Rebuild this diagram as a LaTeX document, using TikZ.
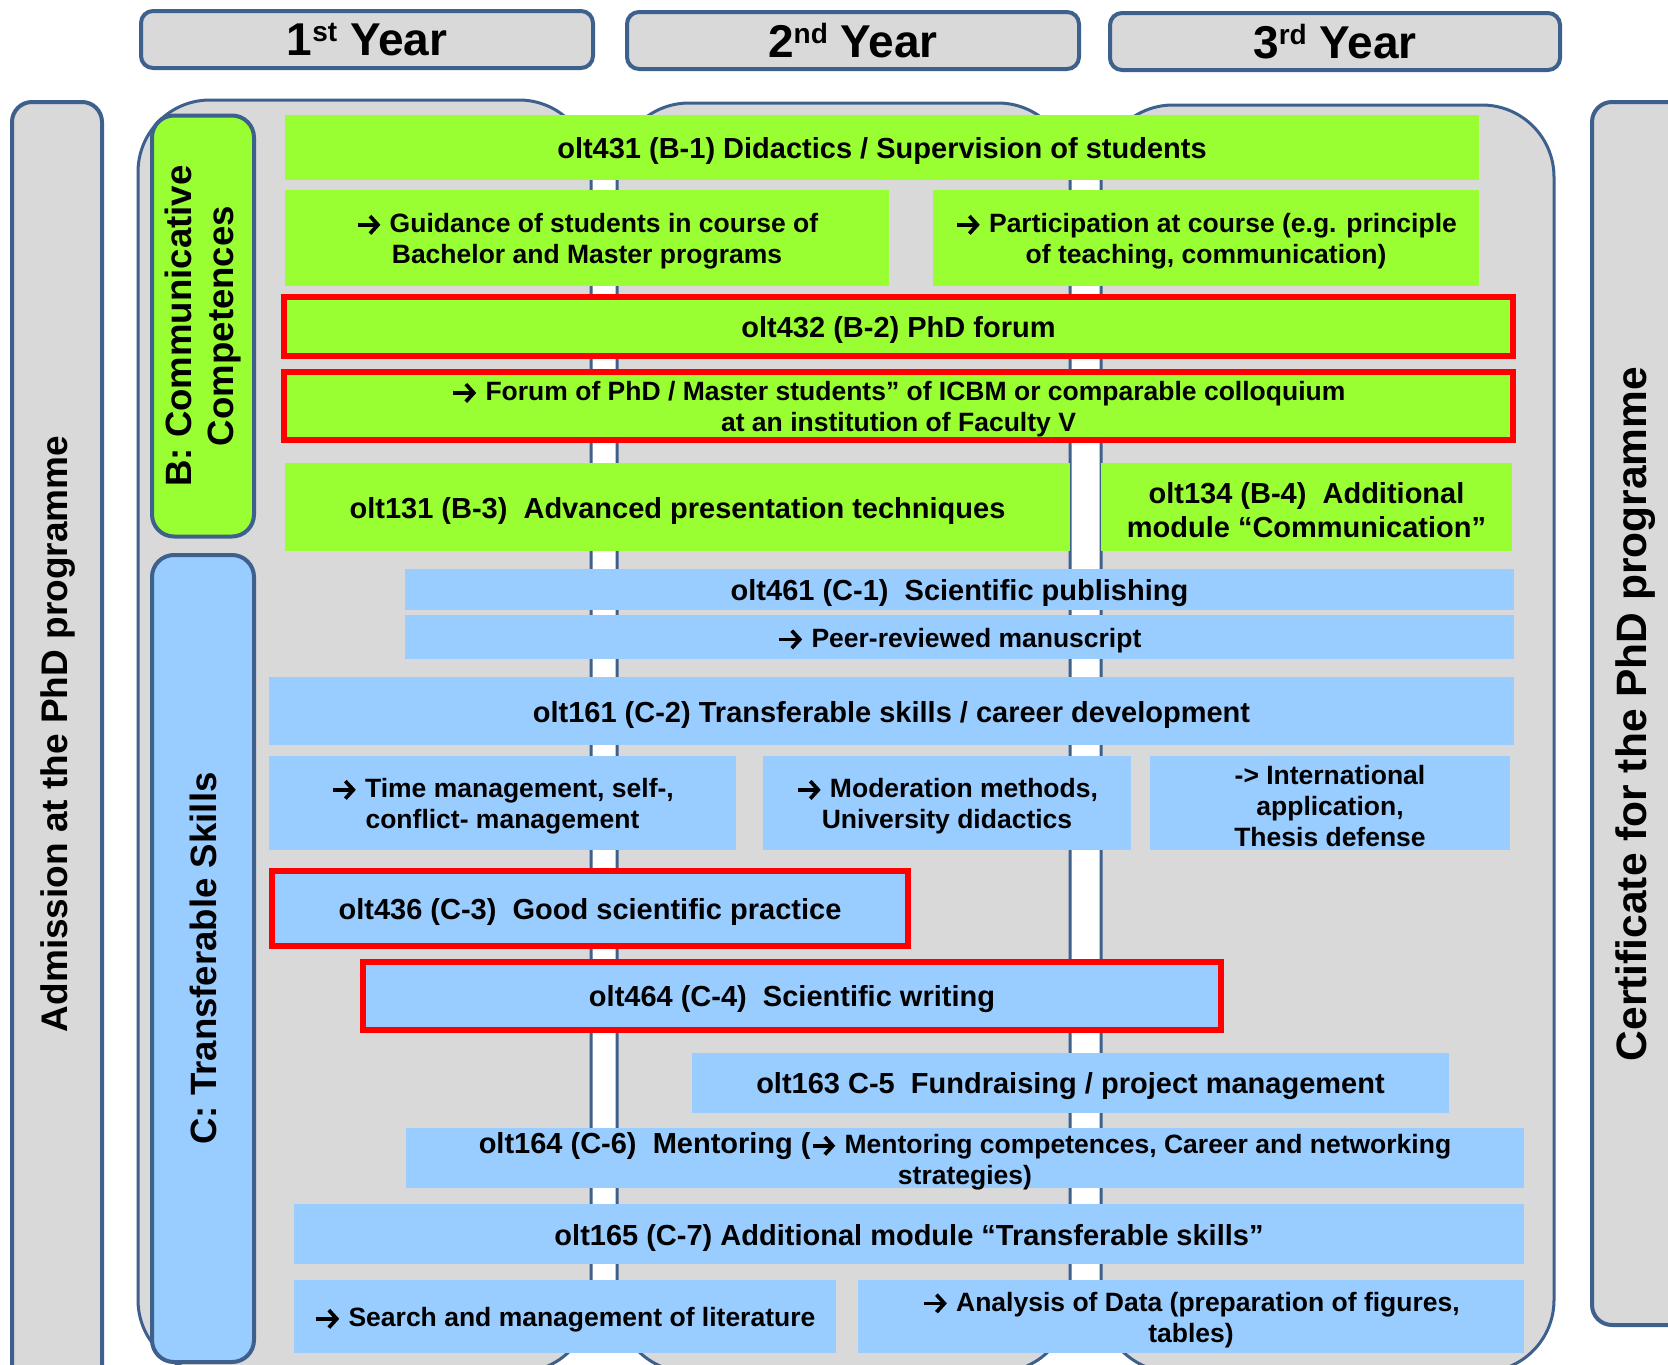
\documentclass[tikz,border=0pt]{standalone}
\usepackage{fontspec}
\setmainfont{Liberation Sans}
\usetikzlibrary{arrows.meta}
\definecolor{gfill}{RGB}{217,217,217}
\definecolor{bord}{RGB}{62,96,140}
\definecolor{grn}{RGB}{153,255,51}
\definecolor{blu}{RGB}{153,204,255}
\newcommand{\arr}{\tikz[baseline=0pt]\draw[black,line width=0.14em,-{Straight Barb[length=0.3em,width=0.66em]}] (0pt,0.3em) -- (0.86em,0.3em);\hspace{0.28em}}
\newcommand{\subf}{\fontsize{26.5}{31}\selectfont}
\newcommand{\mainf}{\fontsize{29}{34}\selectfont}
\newcommand{\bx}[7]{\node[box,#6,minimum width={#3-#2},minimum height={#5-#4}] (#1) at ({(#2+#3)/2},{(#4+#5)/2}) {};
  \node[txt,#6,draw=none,fill=none] (#1t) at ([yshift=-3.5pt]#1.center) {#7};}
\begin{document}
\begin{tikzpicture}[x=1pt,y=-1pt,
  panel/.style={draw=bord,line width=3pt,fill=gfill,rounded corners=72pt},
  side/.style={draw=bord,line width=4pt,fill=gfill,rounded corners=20pt},
  hdr/.style={draw=bord,line width=4pt,fill=gfill,rounded corners=12pt,inner sep=0pt,font=\bfseries\fontsize{46}{50}\selectfont},
  cat/.style={draw=bord,line width=4pt,rounded corners=22pt,inner sep=0pt,rotate=90,align=center,font=\bfseries\fontsize{36.6}{42}\selectfont},
  vtxt/.style={rotate=90,inner sep=0pt,font=\bfseries\fontsize{#1}{#1}\selectfont},
  box/.style={inner sep=0pt,outer sep=0pt},
  txt/.style={inner sep=0pt,outer sep=0pt,align=center,font=\bfseries\mainf},
  gb/.style={fill=grn},
  bb/.style={fill=blu},
  sub/.style={font=\bfseries\subf},
  redg/.style={fill=grn,draw=red,line width=6pt},
  redb/.style={fill=blu,draw=red,line width=6pt}
]
\useasboundingbox (0,0) rectangle (1668,1365);
\clip (0,0) rectangle (1668,1365);
% year panels
\draw[panel] (138,100) rectangle (591,1372);
\draw[panel] (617,103) rectangle (1070,1372);
\draw[panel] (1101,105) rectangle (1554,1372);
% side boxes
\draw[side] (12,102) rectangle (102,1420);
\draw[side] (1592,102) rectangle (1720,1325);
\node[vtxt=37] (admtxt) at (58,734) {Admission at the PhD programme};
\node[vtxt=42.5] (certtxt) at (1636,714) {Certificate for the PhD programme};
% headers
\node[hdr,minimum width=452,minimum height=57] (y1) at (367,39.5) {1\raisebox{14pt}{\fontsize{28}{28}\selectfont st} Year};
\node[hdr,minimum width=452,minimum height=57] (y2) at (853,40.5) {2\raisebox{14pt}{\fontsize{28}{28}\selectfont nd} Year};
\node[hdr,minimum width=450,minimum height=57] (y3) at (1335,41.5) {3\raisebox{14pt}{\fontsize{28}{28}\selectfont rd} Year};
% category boxes
\node[cat,fill=grn,minimum width=421,minimum height=102] (bcat) at (203,326) {B: Communicative\\Competences};
\node[cat,fill=blu,minimum width=807,minimum height=102] (ccat) at (203,958.5) {C: Transferable Skills};
% B modules
\bx{b1}{285}{1479}{115}{180}{gb}{olt431 (B-1) Didactics / Supervision of students}
\bx{b1a}{285}{889}{190}{286}{gb,sub}{\arr Guidance of students in course of\\Bachelor and Master programs}
\bx{b1b}{933}{1479}{190}{286}{gb,sub}{\arr Participation at course (e.g. principle\\of teaching, communication)}
\bx{b2}{284}{1513}{297}{356}{redg}{olt432 (B-2) PhD forum}
\bx{b2a}{284}{1513}{372}{440}{redg,sub}{\arr Forum of PhD / Master students” of ICBM or comparable colloquium\\at an institution of Faculty V}
\bx{b3}{285}{1070}{463}{551}{gb}{olt131 (B-3)\ \ Advanced presentation techniques}
\bx{b4}{1101}{1512}{463}{551}{gb}{olt134 (B-4)\ \ Additional\\module “Communication”}
% C modules
\bx{c1}{405}{1514}{569}{610}{bb}{olt461 (C-1)\ \ Scientific publishing}
\bx{c1a}{405}{1514}{615}{659}{bb,sub}{\arr Peer-reviewed manuscript}
\bx{c2}{269}{1514}{677}{745}{bb}{olt161 (C-2) Transferable skills / career development}
\bx{c2a}{269}{736}{756}{850}{bb,sub}{\arr Time management, self-,\\conflict- management}
\bx{c2b}{763}{1131}{756}{850}{bb,sub}{\arr Moderation methods,\\University didactics}
\bx{c2c}{1150}{1510}{756}{850}{bb,sub}{-> International\\application,\\Thesis defense}
\bx{c3}{272}{908}{871}{946}{redb}{olt436 (C-3)\ \ Good scientific practice}
\bx{c4}{363}{1221}{962}{1030}{redb}{olt464 (C-4)\ \ Scientific writing}
\bx{c5}{692}{1449}{1053}{1113}{bb}{olt163 C-5\ \ Fundraising / project management}
\bx{c6}{406}{1524}{1128}{1188}{bb,sub}{{\mainf olt164 (C-6)\ \ Mentoring (}\arr Mentoring competences, Career and networking\\strategies)}
\bx{c7}{294}{1524}{1204}{1264}{bb}{olt165 (C-7) Additional module “Transferable skills”}
\bx{c7a}{294}{836}{1280}{1353}{bb,sub}{\arr Search and management of literature}
\bx{c7b}{858}{1524}{1280}{1353}{bb,sub}{\arr Analysis of Data (preparation of figures,\\tables)}
\end{tikzpicture}
\end{document}
